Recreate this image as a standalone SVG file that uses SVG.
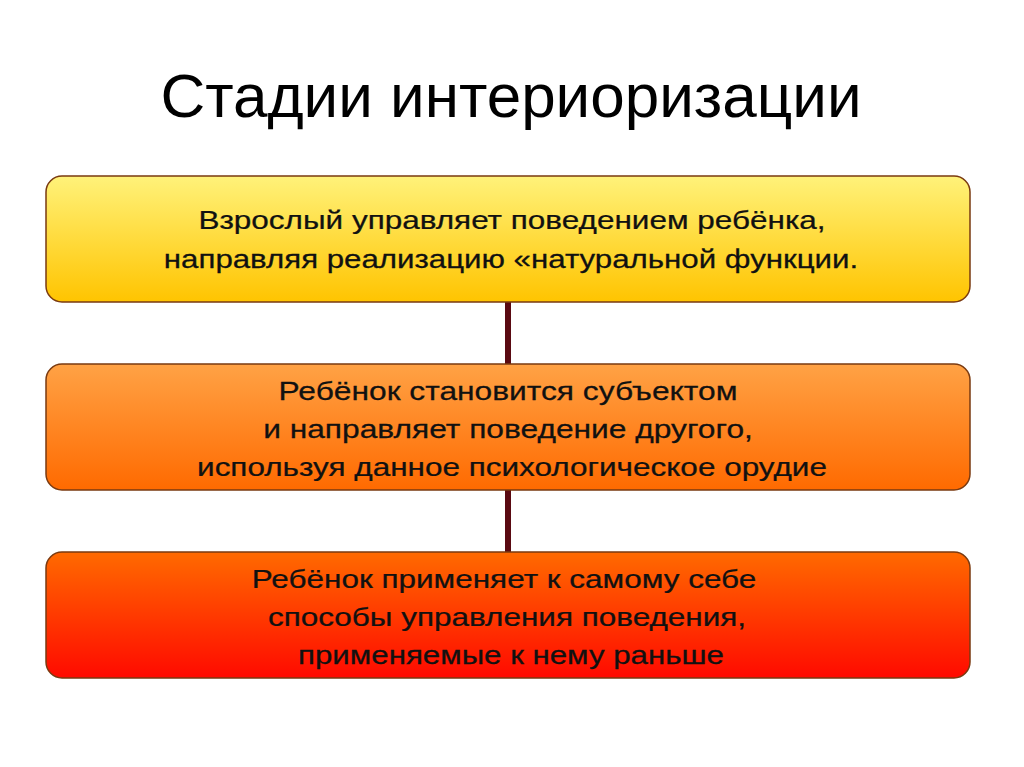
<svg xmlns="http://www.w3.org/2000/svg" width="1024" height="767" viewBox="0 0 1024 767">
<defs>
<linearGradient id="g1" x1="0" y1="0" x2="0" y2="1"><stop offset="0" stop-color="#FFF27A"/><stop offset="1" stop-color="#FFC400"/></linearGradient>
<linearGradient id="g2" x1="0" y1="0" x2="0" y2="1"><stop offset="0" stop-color="#FFA245"/><stop offset="1" stop-color="#FF6A00"/></linearGradient>
<linearGradient id="g3" x1="0" y1="0" x2="0" y2="1"><stop offset="0" stop-color="#FF6A00"/><stop offset="1" stop-color="#FF0A00"/></linearGradient>
</defs>
<style>
.box{stroke:#7a3a10;stroke-width:1.5}
.t{font-family:"Liberation Sans",Arial,sans-serif;font-size:25px;fill:#111;stroke:#111;stroke-width:0.25;text-anchor:middle}
.title{font-family:"Liberation Sans",Arial,sans-serif;font-size:62px;fill:#000;text-anchor:middle}
.c{stroke:#5a0a12;stroke-width:6}
</style>
<rect width="1024" height="767" fill="#fff"/>
<text class="title" x="511" y="117">Стадии интериоризации</text>
<g id="connectors">
<line class="c" x1="508" y1="302" x2="508" y2="364"/>
<line class="c" x1="508" y1="490" x2="508" y2="552"/>
</g>
<g id="n1">
<rect class="box" x="46" y="176" width="924" height="126" rx="16" fill="url(#g1)"/>
<text class="t" transform="translate(512,229) scale(1.26,1)">Взрослый управляет поведением ребёнка,</text>
<text class="t" transform="translate(511,268) scale(1.25,1)">направляя реализацию «натуральной функции.</text>
</g>
<g id="n2">
<rect class="box" x="46" y="364" width="924" height="126" rx="16" fill="url(#g2)"/>
<text class="t" transform="translate(508,400) scale(1.27,1)">Ребёнок становится субъектом</text>
<text class="t" transform="translate(508,438) scale(1.27,1)">и направляет поведение другого,</text>
<text class="t" transform="translate(512,476) scale(1.26,1)">используя данное психологическое орудие</text>
</g>
<g id="n3">
<rect class="box" x="46" y="552" width="924" height="126" rx="16" fill="url(#g3)"/>
<text class="t" transform="translate(504,588) scale(1.26,1)">Ребёнок применяет к самому себе</text>
<text class="t" transform="translate(507,626) scale(1.26,1)">способы управления поведения,</text>
<text class="t" transform="translate(511,664) scale(1.25,1)">применяемые к нему раньше</text>
</g>
</svg>
